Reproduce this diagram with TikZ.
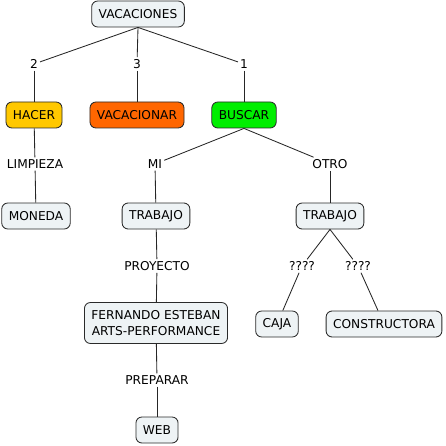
\documentclass[tikz,border=0pt]{standalone}
\usepackage{fontspec}
\setmainfont{DejaVu Sans}
\usepackage{xcolor}
\usetikzlibrary{positioning}
\definecolor{boxfill}{HTML}{EEF3F5}
\definecolor{hacerfill}{HTML}{FFC800}
\definecolor{vacafill}{HTML}{FF6600}
\definecolor{buscarfill}{HTML}{00EE00}
\definecolor{edge}{HTML}{2A2A2A}

\begin{document}
\begin{tikzpicture}[
  x=1pt, y=-1pt,
  font=\fontsize{12.2}{14.5}\selectfont,
  concept/.style={draw=edge, line width=0.85pt, rounded corners=6pt, align=center,
                  inner xsep=7pt, minimum height=26pt, fill=boxfill},
  phrase/.style={inner sep=2pt, fill=white},
  link/.style={draw=black!85, line width=0.85pt}]

\useasboundingbox (0,0) rectangle (445,446);

% concepts
\node[concept] (vac)   at (138,14)  {VACACIONES};
\node[concept, fill=hacerfill]  (hacer)  at (34,115)  {HACER};
\node[concept, fill=vacafill]   (vacar)  at (137,115) {VACACIONAR};
\node[concept, fill=buscarfill] (buscar) at (244,115) {BUSCAR};
\node[concept] (moneda) at (36,216)  {MONEDA};
\node[concept] (trabA)  at (156,216) {TRABAJO};
\node[concept] (trabB)  at (330,216) {TRABAJO};
\node[concept, minimum height=41pt, font=\fontsize{12.2}{16}\selectfont]
     (fern)   at (156,323) {FERNANDO ESTEBAN\\ARTS-PERFORMANCE};
\node[concept] (caja)   at (277,324) {CAJA};
\node[concept] (constr) at (384,324) {CONSTRUCTORA};
\node[concept] (web)    at (157,430) {WEB};

% linking phrases
\node[phrase] (dos)   at (34,64)   {2};
\node[phrase] (tres)  at (137,64)  {3};
\node[phrase] (uno)   at (244,64)  {1};
\node[phrase] (limp)  at (35,164)  {LIMPIEZA};
\node[phrase] (mi)    at (155,164) {MI};
\node[phrase] (otro)  at (330,164) {OTRO};
\node[phrase] (proy)  at (157,266) {PROYECTO};
\node[phrase] (qa)    at (302,266) {????};
\node[phrase] (qb)    at (358,266) {????};
\node[phrase] (prep)  at (157,380) {PREPARAR};

\foreach \a/\b in {dos/hacer, tres/vacar, uno/buscar, hacer/limp, limp/moneda,
                   mi/trabA, otro/trabB, trabA/proy, proy/fern, fern/prep,
                   prep/web, qa/caja, qb/constr}
  \draw[link] (\a) -- (\b);

\foreach \b in {dos, tres, uno}
  \draw[link] (vac.south) -- (\b);
\foreach \b in {mi, otro}
  \draw[link] (buscar.south) -- (\b);
\foreach \b in {qa, qb}
  \draw[link] (trabB.south) -- (\b);
\end{tikzpicture}
\end{document}
